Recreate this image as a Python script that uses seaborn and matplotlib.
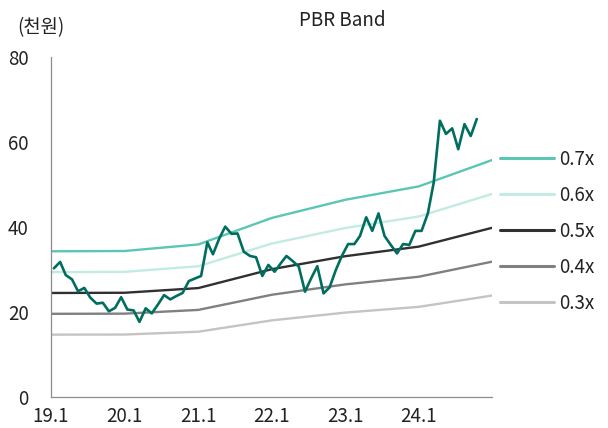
import pandas as pd
import numpy as np
import matplotlib
matplotlib.use("Agg")
import matplotlib.pyplot as plt
import seaborn as sns

# monthly share price (thousand won), Jan 2019 onward
price = [30.3, 31.8, 28.7, 27.7, 24.9, 25.7, 23.4, 22.0, 22.2, 20.2, 21.0, 23.5,
         20.6, 20.4, 17.7, 20.9, 19.7, 21.8, 24.0, 23.0, 23.8, 24.5, 27.3, 27.9,
         28.5, 36.4, 33.6, 37.3, 40.1, 38.4, 38.5, 34.2, 33.2, 32.9, 28.5, 31.1,
         29.5, 31.5, 33.2, 32.0, 30.7, 24.8, 27.9, 30.8, 24.4, 25.8, 29.9, 33.2,
         36.0, 36.0, 37.9, 42.3, 39.1, 43.2, 37.9, 35.8, 33.8, 36.0, 35.8, 39.1,
         39.1, 43.2, 50.4, 65.0, 61.9, 63.2, 58.3, 64.2, 61.4, 65.4]

# book value per share at each year start (thousand won)
bps_dates = ["2019-01-01", "2020-01-01", "2021-01-01", "2022-01-01",
             "2023-01-01", "2024-01-01", "2025-01-01"]
bps = [49.0, 49.1, 51.3, 60.2, 66.3, 70.8, 79.7]

multiples = [0.7, 0.6, 0.5, 0.4, 0.3]
band_labels = ["0.7x", "0.6x", "0.5x", "0.4x", "0.3x"]
band_colors = ["#5cc6b4", "#c2ebe3", "#303030", "#808080", "#c4c4c4"]

tick_years = ["2019-01-01", "2020-01-01", "2021-01-01", "2022-01-01",
              "2023-01-01", "2024-01-01", "2025-01-01"]
tick_labels = ["19.1", "20.1", "21.1", "22.1", "23.1", "24.1", ""]

price_df = pd.DataFrame({
    "date": pd.date_range("2019-01-15", periods=len(price), freq=pd.DateOffset(months=1)),
    "price": price,
})

rows = []
for m, lab in zip(multiples, band_labels):
    for d, b in zip(bps_dates, bps):
        rows.append({"date": pd.Timestamp(d), "value": b * m, "band": lab})
band_df = pd.DataFrame(rows)

sns.set_style("white")
plt.rcParams["font.family"] = ["Noto Sans CJK KR", "DejaVu Sans"]
plt.rcParams["font.weight"] = "light"

FS = 13.5

fig = plt.figure(figsize=(6.08, 4.28), dpi=100)
ax = fig.add_axes([0.084, 0.072, 0.726, 0.795])

sns.lineplot(data=band_df, x="date", y="value", hue="band", hue_order=band_labels,
             palette=band_colors, linewidth=1.7, ax=ax)
sns.lineplot(data=price_df, x="date", y="price", color="#006e5f", linewidth=1.9,
             ax=ax, legend=False)

ax.set_xlim(pd.Timestamp(tick_years[0]), pd.Timestamp(tick_years[-1]))
ax.set_ylim(0, 80)
ax.set_yticks([0, 20, 40, 60, 80])
ax.set_xticks([pd.Timestamp(t) for t in tick_years])
ax.set_xticklabels(tick_labels)
ax.set_xlabel("")
ax.set_ylabel("")

for s in ["top", "right"]:
    ax.spines[s].set_visible(False)
for s in ["left", "bottom"]:
    ax.spines[s].set_color("#8c8c8c")
    ax.spines[s].set_linewidth(0.9)
ax.tick_params(axis="both", length=4, width=0.9, color="#8c8c8c",
               labelsize=FS, labelcolor="#222222", direction="out")
ax.tick_params(axis="x", pad=2)
ax.tick_params(axis="y", pad=12)

leg = ax.legend(loc="center left", bbox_to_anchor=(1.018, 0.488), frameon=False,
                fontsize=FS, handlelength=2.85, handletextpad=0.3,
                labelspacing=0.8, borderaxespad=0, borderpad=0)
for t in leg.get_texts():
    t.set_color("#222222")
for h in leg.get_lines():
    h.set_linewidth(2.2)

fig.text(0.5625, 0.953, "PBR Band", ha="center", va="center", fontsize=FS,
         color="#222222")
fig.text(0.068, 0.935, "(천원)", ha="center", va="center", fontsize=FS,
         color="#222222")

fig.savefig("out.png", dpi=100)
